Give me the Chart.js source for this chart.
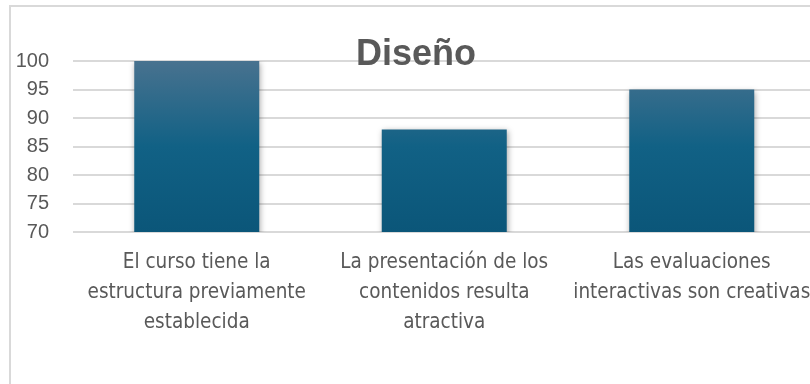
<!DOCTYPE html>
<html>
<head>
<meta charset="utf-8">
<script src="https://cdn.jsdelivr.net/npm/chart.js@4.4.1/dist/chart.umd.min.js"></script>
<style>
  html, body { margin: 0; padding: 0; background: #ffffff; overflow: hidden; width: 810px; height: 384px; }
  #frame {
    position: absolute; left: 9px; top: 5px;
    width: 810px; height: 392px;
    border: 2px solid #d9d9d9; background: #ffffff;
  }
  #chart { display: block; }
</style>
</head>
<body>
<div id="frame"><canvas id="chart" width="810" height="392"></canvas></div>
<script>
// Chart content
const chartTitle = 'Diseño';
const categories = [
  ['El curso tiene la', 'estructura previamente', 'establecida'],
  ['La presentación de los', 'contenidos resulta', 'atractiva'],
  ['Las evaluaciones', 'interactivas son creativas']
];
const scores = [100, 88, 95];
const yMin = 70;
const yMax = 100;
const yStep = 5;

const textGrey = '#595959';
const narrowFont = "'Liberation Sans Narrow', 'DejaVu Sans Condensed', 'Roboto', sans-serif";

// Vertical gradient fill for each bar, following its own height
function barGradient(context) {
  const chart = context.chart;
  const area = chart.chartArea;
  if (!area) return '#0f5f84';
  const el = context.element;
  const top = el && el.y !== undefined ? el.y : area.top;
  const bottom = el && el.base !== undefined ? el.base : area.bottom;
  const g = chart.ctx.createLinearGradient(0, top, 0, bottom);
  g.addColorStop(0, '#48728f');
  g.addColorStop(0.5, '#116185');
  g.addColorStop(1, '#0b5679');
  return g;
}

// Soft drop shadow beneath the bars
const barShadow = {
  id: 'barShadow',
  beforeDatasetsDraw(chart) {
    const ctx = chart.ctx;
    ctx.save();
    ctx.shadowColor = 'rgba(0,0,0,0.35)';
    ctx.shadowBlur = 6;
    ctx.shadowOffsetX = 1;
    ctx.shadowOffsetY = 2;
  },
  afterDatasetsDraw(chart) {
    chart.ctx.restore();
  }
};

// Title placed over the top of the plot, as in the original layout
const overlayTitle = {
  id: 'overlayTitle',
  afterDraw(chart) {
    const ctx = chart.ctx;
    ctx.save();
    ctx.font = "bold 36px 'Liberation Sans', Arial, sans-serif";
    ctx.fillStyle = textGrey;
    ctx.textAlign = 'center';
    ctx.textBaseline = 'alphabetic';
    ctx.fillText(chartTitle, 405, 58);
    ctx.restore();
  }
};

new Chart(document.getElementById('chart'), {
  type: 'bar',
  data: {
    labels: categories,
    datasets: [{
      data: scores,
      backgroundColor: barGradient,
      borderWidth: 0,
      categoryPercentage: 1.0,
      barPercentage: 0.505
    }]
  },
  options: {
    responsive: false,
    animation: false,
    layout: { padding: { top: 54, right: 5.5, bottom: 0, left: 0 } },
    plugins: {
      legend: { display: false },
      title: { display: false },
      tooltip: { enabled: false }
    },
    scales: {
      x: {
        grid: { display: false, drawTicks: false },
        border: { display: false },
        ticks: {
          color: textGrey,
          font: { family: narrowFont, size: 20.5, lineHeight: '30px' },
          padding: 16,
          maxRotation: 0,
          autoSkip: false
        },
        afterFit(scale) {
          scale.height = 392 - 54 - 171;
          // let the wide last label run past the plot edge instead of shrinking it
          scale.paddingLeft = 0;
          scale.paddingRight = 0;
        }
      },
      y: {
        min: yMin,
        max: yMax,
        grid: { color: '#d9d9d9', lineWidth: 2, drawTicks: false },
        border: { display: false },
        ticks: {
          stepSize: yStep,
          color: textGrey,
          font: { family: "'Liberation Sans', Arial, sans-serif", size: 20 },
          padding: 24
        },
        afterFit(scale) { scale.width = 62; }
      }
    }
  },
  plugins: [barShadow, overlayTitle]
});
</script>
</body>
</html>
